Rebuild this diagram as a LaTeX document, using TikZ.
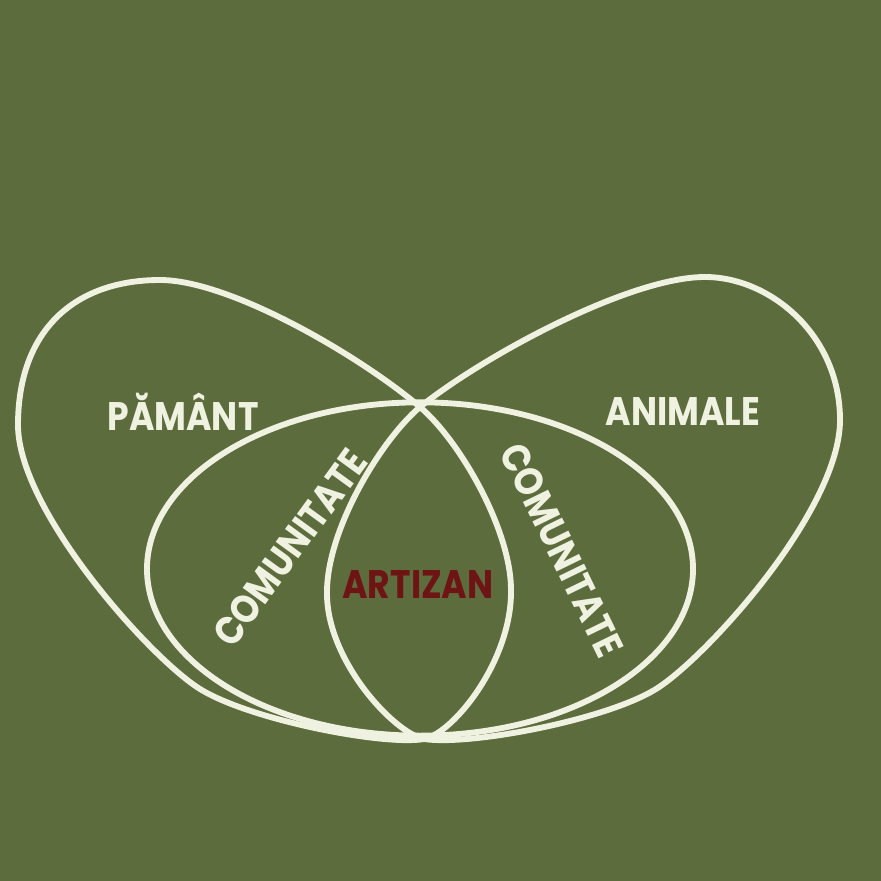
\documentclass[tikz,border=0pt]{standalone}
\usepackage{fontspec}
\newfontfamily\lblfont{Poppins}[FakeStretch=0.87]
\definecolor{bg}{HTML}{5D6C3C}
\definecolor{cream}{HTML}{F0F2E1}
\definecolor{maroon}{HTML}{6E1414}
\begin{document}
\begin{tikzpicture}[x = 0.03cm, y = -0.03cm, ring/.style = {draw = cream, line width = 5pt}, main/.style = {text = cream, font = \lblfont\bfseries\fontsize{34}{34}\selectfont, inner sep = 0pt}]
	\fill[bg] (0,0) rectangle (881,881);
	\coordinate (b) at (424,739);
	\coordinate (x) at (420,407);
	% middle ring
	\draw[ring] (420,569) ellipse [x radius = 8.19cm, y radius = 5.0cm];
	% left leaf
	\draw[ring] (b) .. controls (454,733) and (512,660) .. (511,590)
		.. controls (511,530) and (460,441) .. (x)
		.. controls (360,356) and (230,280) .. (160,280)
		.. controls (75,280) and (18,330) .. (18,425)
		.. controls (18,510) and (150,658) .. (200,689)
		.. controls (250,720) and (384,746) .. (b);
	% right leaf
	\draw[ring] (b) .. controls (394,733) and (326,660) .. (327,592)
		.. controls (327,530) and (380,441) .. (x)
		.. controls (485,355) and (630,277) .. (705,277)
		.. controls (770,277) and (840,335) .. (840,420)
		.. controls (840,510) and (706,658) .. (656,689)
		.. controls (606,720) and (470,746) .. (b);
	\node[main] (l1) at (183,412) {PĂMÂNT};
	\node[main] (l2) at (683,412) {ANIMALE};
	\node[main, text = maroon] (l3) at (418,585) {ARTIZAN};
	\node[main, rotate = 54] (l4) at (290,548) {COMUNITATE};
	\node[main, rotate = -64] (l5) at (562,550) {COMUNITATE};
\end{tikzpicture}
\end{document}
